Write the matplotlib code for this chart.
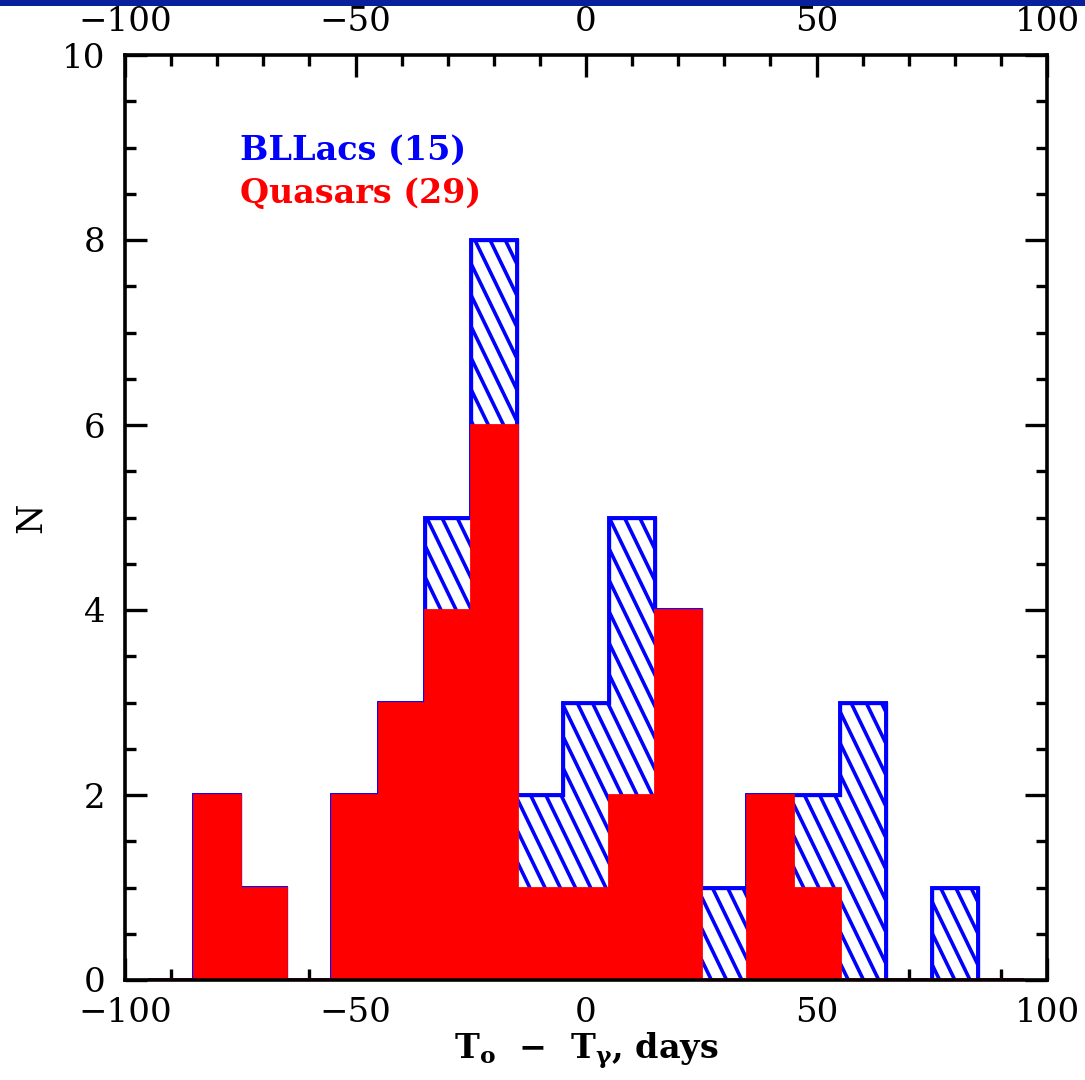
import numpy as np
import matplotlib
matplotlib.use("Agg")
import matplotlib.pyplot as plt
from matplotlib.collections import LineCollection
from matplotlib.patches import Rectangle

# ---- data ----
bin_edges = np.arange(-95, 96, 10)          # 19 bins, width 10 days
quasars = [0, 2, 1, 0, 2, 3, 4, 6, 1, 1, 2, 4, 0, 2, 1, 0, 0, 0, 0]
bllacs  = [0, 0, 0, 0, 0, 0, 1, 2, 1, 2, 3, 0, 1, 0, 1, 3, 0, 1, 0]
label_bl = "BLLacs (15)"
label_q = "Quasars (29)"
xticks_major = [-100, -50, 0, 50, 100]
yticks_major = [0, 2, 4, 6, 8, 10]

BLUE = "#0000ff"
RED = "#ff0000"
FONT = "DejaVu Serif"

plt.rcParams["mathtext.fontset"] = "custom"
plt.rcParams["mathtext.rm"] = "DejaVu Serif:bold"
plt.rcParams["mathtext.it"] = "DejaVu Serif:italic:bold"
plt.rcParams["mathtext.bf"] = "DejaVu Serif:bold"

fig = plt.figure(figsize=(10.85, 10.8), dpi=100)
ax = fig.add_axes([125 / 1085, 1 - 980 / 1080, 922 / 1085, 925 / 1080])

total = np.array(quasars) + np.array(bllacs)

# blue hatched total histogram
blue = ax.stairs(total, bin_edges, fill=True, facecolor="white",
                 edgecolor=BLUE, linewidth=2.4, zorder=2)
# custom steep hatch lines clipped to the blue histogram
starts = np.arange(-220, 120, 3.3)
segs = [[(c, 10.5), (c + 102, 0.0)] for c in starts]
lc = LineCollection(segs, colors=BLUE, linewidths=2.6, zorder=2.5)
ax.add_collection(lc)
lc.set_clip_path(blue)
# redraw blue outline above the hatch
ax.stairs(total, bin_edges, fill=False, color=BLUE, linewidth=2.8,
          baseline=0, zorder=2.6)

# red filled quasar histogram
ax.stairs(quasars, bin_edges, fill=True, facecolor=RED, edgecolor=RED,
          linewidth=2.0, zorder=3)
ax.plot([bin_edges[0], bin_edges[-1]], [0, 0], color=RED, linewidth=2.6,
        zorder=3.1, solid_capstyle="butt")

ax.set_xlim(-100, 100)
ax.set_ylim(0, 10)

ax.set_xticks(xticks_major)
ax.set_xticks(np.arange(-100, 101, 10), minor=True)
ax.set_yticks(yticks_major)
ax.set_yticks(np.arange(0, 10.01, 0.5), minor=True)

ax.tick_params(axis="both", which="both", direction="in", top=True,
               right=True, labeltop=True, color="black")
ax.tick_params(which="major", length=16, width=2.4)
ax.tick_params(which="minor", length=8, width=2.4)
ax.tick_params(axis="x", which="major", pad=12)
ax.tick_params(axis="y", which="major", pad=14)
ax.set_xticklabels([f"{v:d}".replace("-", "\u2212") for v in xticks_major],
                   fontfamily=FONT, fontsize=24.5)
ax.set_yticklabels([f"{v:d}" for v in yticks_major],
                   fontfamily=FONT, fontsize=24.5)

for sp in ax.spines.values():
    sp.set_linewidth(2.6)
    sp.set_zorder(5)

ax.set_xlabel(r"$\mathrm{T_o}$  $-$  $\mathrm{T_\gamma}$, days", fontfamily=FONT,
              fontweight="bold", fontsize=24, labelpad=1)
ax.set_ylabel("N", fontfamily=FONT, fontsize=25, labelpad=10)

ax.text(-75, 8.97, label_bl, color=BLUE, fontfamily=FONT, fontweight="bold",
        fontsize=24, va="center", ha="left")
ax.text(-75, 8.5, label_q, color=RED, fontfamily=FONT, fontweight="bold",
        fontsize=24, va="center", ha="left")

# navy band at the very top of the image
fig.add_artist(Rectangle((0, 1 - 6 / 1080), 1, 6 / 1080, transform=fig.transFigure,
                         facecolor="#0a1f9c", edgecolor="none"))

fig.savefig("out.png", dpi=100)
